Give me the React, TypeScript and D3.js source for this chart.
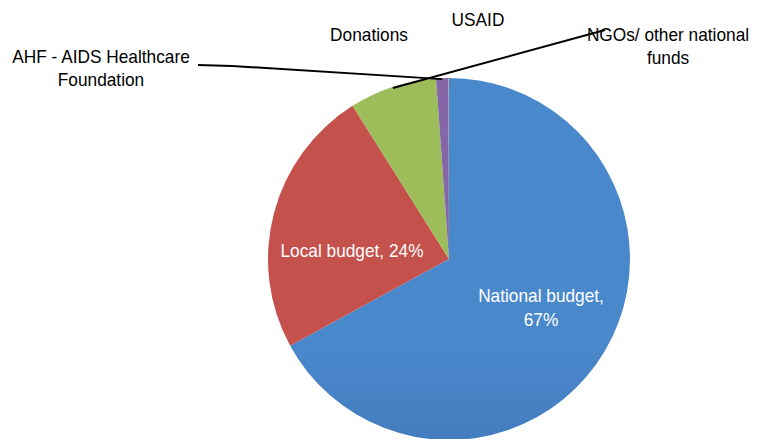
import React from "react";
import * as d3 from "d3";

const categories = ["National budget", "Local budget", "Donations", "AHF - AIDS Healthcare Foundation", "USAID", "NGOs/ other national funds"];
const values = [67, 24, 7.8, 1.1, 0.02, 0.02];
const colorsTop = ["#4A88CC", "#C5514D", "#9DBD5B", "#8566A7", "#4BACC6", "#F79646"];
const colorsBottom = ["#33629C", "#9E3C39", "#7A9642", "#684E86", "#3A8DA3", "#D17A33"];

const W = 763, H = 439;
const cx = 449, cy = 259, R = 181;

function Label({ x, y, children }: { x: number; y: number; children: React.ReactNode }) {
  return (
    <text transform={`translate(${x},${y}) scale(0.9,1)`} x={0} y={0}>
      {children}
    </text>
  );
}

export default function App() {
  const pie = d3.pie<number>().sort(null).value((d) => d);
  const arcs = pie(values);
  const arc = d3.arc<d3.PieArcDatum<number>>().innerRadius(0).outerRadius(R);
  const edge = d3.arc<d3.PieArcDatum<number>>().innerRadius(R - 1).outerRadius(R - 1);

  const font = "'Liberation Sans', Arial, sans-serif";
  const ahfPt = edge.centroid(arcs[3]);
  const donPt = edge.centroid(arcs[2]);

  return (
    <svg width={W} height={H} style={{ position: "absolute", left: 0, top: 0, background: "#fff" }} fontFamily={font}>
      <defs>
        {colorsTop.map((c, i) => (
          <linearGradient key={i} id={`g${i}`} gradientUnits="userSpaceOnUse" x1={0} y1={cy - R} x2={0} y2={cy + R}>
            <stop offset="0%" stopColor={c} />
            <stop offset="100%" stopColor={colorsBottom[i]} />
          </linearGradient>
        ))}
      </defs>
      <g transform={`translate(${cx},${cy})`}>
        {arcs.map((a, i) => (
          <path key={i} d={arc(a) || ""} fill={`url(#g${i})`} />
        ))}
      </g>
      {/* leader lines */}
      <polyline points={`198,65 232,66 ${cx + ahfPt[0]},${cy + ahfPt[1]}`} fill="none" stroke="#000" strokeWidth={2} />
      <polyline points={`${cx + donPt[0]},${cy + donPt[1]} 605,30`} fill="none" stroke="#000" strokeWidth={2} />
      {/* outside labels */}
      <g fontSize={19.2} fill="#000" textAnchor="middle">
        <Label x={369} y={41}>{categories[2]}</Label>
        <Label x={478} y={26}>{categories[4]}</Label>
        <Label x={668} y={41}>NGOs/ other national</Label>
        <Label x={668} y={64}>funds</Label>
        <Label x={101} y={63}>AHF - AIDS Healthcare</Label>
        <Label x={101} y={86}>Foundation</Label>
      </g>
      {/* inside labels */}
      <g fontSize={19.2} fill="#fff" textAnchor="middle">
        <Label x={352} y={257}>{`${categories[1]}, ${values[1]}%`}</Label>
        <Label x={541} y={302}>{`${categories[0]},`}</Label>
        <Label x={541} y={326}>{`${values[0]}%`}</Label>
      </g>
    </svg>
  );
}
